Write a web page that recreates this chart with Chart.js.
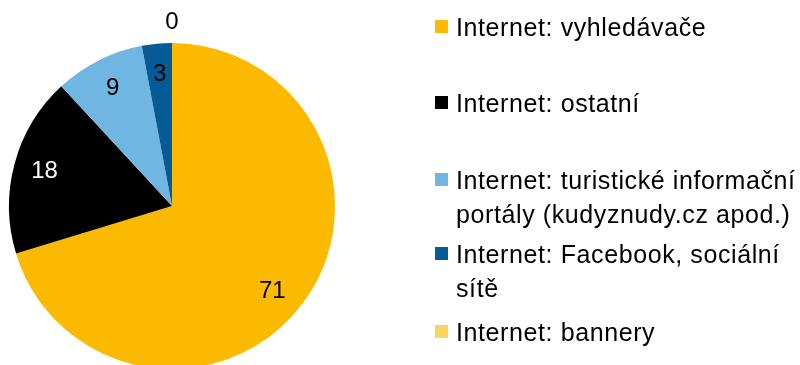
<!DOCTYPE html>
<html>
<head>
<meta charset="utf-8">
<script src="https://cdn.jsdelivr.net/npm/chart.js@4/dist/chart.umd.min.js"></script>
<style>
    html, body {
        margin: 0;
        padding: 0;
        width: 800px;
        height: 365px;
        overflow: hidden;
        background: #ffffff;
        font-family: "Liberation Sans", Arial, sans-serif;
    }
    #pieWrap {
        position: absolute;
        left: 0;
        top: 0;
        width: 345px;
        height: 412px;
    }
    #legend {
        position: absolute;
        left: 0;
        top: 0;
        width: 800px;
        height: 365px;
    }
    .legend-item {
        position: absolute;
        left: 435px;
        color: #000;
        font-size: 25px;
        letter-spacing: 0.6px;
        line-height: 34px;
        white-space: nowrap;
    }
    .legend-box {
        position: absolute;
        left: 0;
        top: 10px;
        width: 13px;
        height: 13px;
    }
    .legend-text {
        margin-left: 21px;
    }
</style>
</head>
<body>
<div id="pieWrap"><canvas id="pieChart" width="345" height="412"></canvas></div>
<div id="legend"></div>

<script>
// categories (multi-line ones split into lines)
const categories = [
    ['Internet: vyhledávače'],
    ['Internet: ostatní'],
    ['Internet: turistické informační', 'portály (kudyznudy.cz apod.)'],
    ['Internet: Facebook, sociální', 'sítě'],
    ['Internet: bannery']
];
const shares = [71, 18, 9, 3, 0];
const sliceColors = ['#FBBA00', '#000000', '#6FB6E2', '#075B95', '#FDD35F'];
const labelColors = ['#000000', '#ffffff', '#000000', '#000000', '#000000'];

// value labels inside the slices, empty slices get theirs just outside the rim
const sliceLabels = {
    id: 'sliceLabels',
    afterDatasetsDraw(chart) {
        const ctx = chart.ctx;
        const meta = chart.getDatasetMeta(0);
        ctx.save();
        ctx.font = '24px "Liberation Sans", Arial, sans-serif';
        ctx.textAlign = 'center';
        ctx.textBaseline = 'middle';
        meta.data.forEach((arc, i) => {
            const p = arc.getProps(['x', 'y', 'startAngle', 'endAngle', 'outerRadius'], true);
            // big slices read better a little further round
            let mid = (p.startAngle + p.endAngle) / 2;
            if (p.endAngle - p.startAngle > Math.PI) mid += 0.07;
            const value = chart.data.datasets[0].data[i];
            const r = value === 0 ? p.outerRadius + 21 : p.outerRadius * 0.81;
            ctx.fillStyle = value === 0 ? '#000000' : labelColors[i];
            ctx.fillText(String(value), p.x + Math.cos(mid) * r, p.y + Math.sin(mid) * r);
        });
        ctx.restore();
    }
};

const pie = new Chart(document.getElementById('pieChart').getContext('2d'), {
    type: 'pie',
    data: {
        labels: categories.map(c => c.join(' ')),
        datasets: [{
            data: shares,
            backgroundColor: sliceColors,
            borderWidth: 0
        }]
    },
    options: {
        responsive: false,
        animation: false,
        layout: { padding: { left: 9, right: 10, top: 0, bottom: 0 } },
        plugins: {
            legend: { display: false },
            tooltip: { enabled: false }
        }
    },
    plugins: [sliceLabels]
});

// legend on the right
const legendTops = [10, 86, 163, 237, 315];
const legend = document.getElementById('legend');
categories.forEach((lines, i) => {
    const item = document.createElement('div');
    item.className = 'legend-item';
    item.style.top = legendTops[i] + 'px';
    const box = document.createElement('div');
    box.className = 'legend-box';
    box.style.background = sliceColors[i];
    const text = document.createElement('div');
    text.className = 'legend-text';
    text.innerHTML = lines.join('<br>');
    item.appendChild(box);
    item.appendChild(text);
    legend.appendChild(item);
});
</script>
</body>
</html>
